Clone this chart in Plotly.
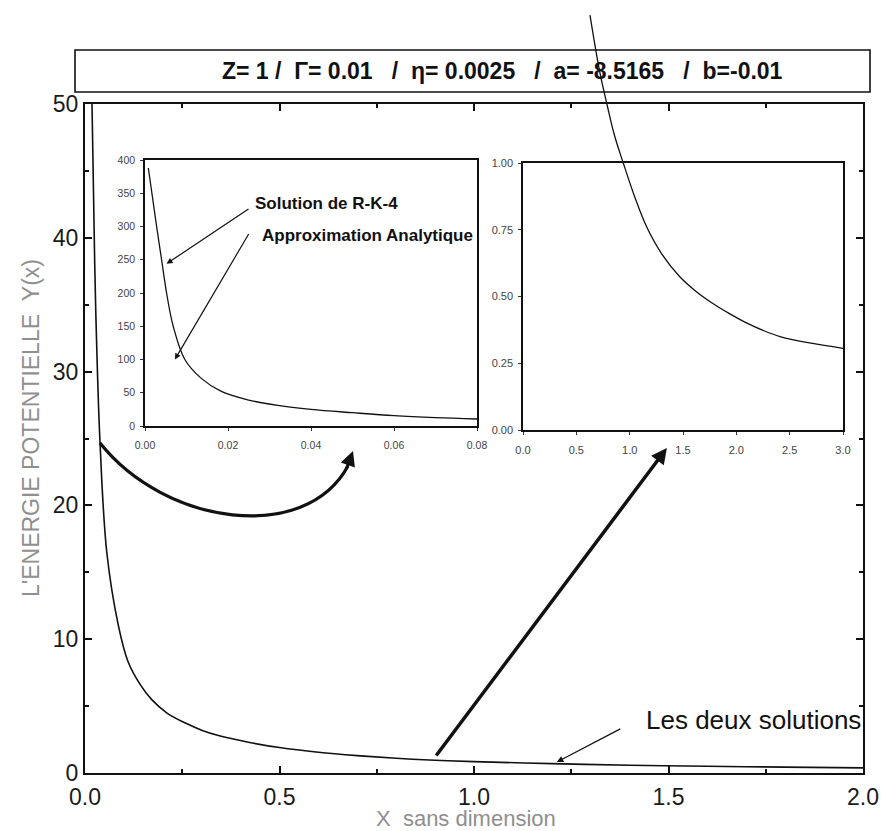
import plotly.graph_objects as go

# ---- figure size (px) and helpers to place things in paper space ----
W, H = 882, 831


def fx(px):
    return px / W


def fy(py):
    return 1 - py / H


# ---- data ----
# main curve: potential energy Y(x) over the full range
main_x = [0.018, 0.025, 0.03, 0.0386, 0.056, 0.086, 0.111, 0.14, 0.171, 0.21,
          0.257, 0.3, 0.343, 0.42, 0.5, 0.6, 0.7, 0.8, 0.9, 1.0, 1.2, 1.4,
          1.6, 1.8, 2.0]
main_y = [50.0, 38.0, 32.0, 24.7, 16.5, 11.0, 8.3, 6.7, 5.5, 4.5,
          3.75, 3.2, 2.8, 2.3, 1.9, 1.55, 1.3, 1.1, 0.95, 0.85, 0.7, 0.58,
          0.5, 0.44, 0.38]

# zoom near the origin (0 .. 0.08)
near_x = [0.0008, 0.0028, 0.004, 0.0052, 0.0068, 0.0096, 0.0135, 0.0184,
          0.025, 0.032, 0.04, 0.05, 0.06, 0.07, 0.08]
near_y = [388, 300, 250, 200, 150, 100, 72, 52, 39, 31, 25, 20, 15.5,
          12.5, 10.5]

# zoom on the tail (0 .. 3)
tail_x = [0.628, 0.72, 0.787, 0.86, 0.94, 1.05, 1.16, 1.3, 1.47, 1.62,
          1.78, 1.94, 2.1, 2.25, 2.41, 2.7, 3.0]
tail_y = [1.554, 1.34, 1.22, 1.10, 1.0, 0.87, 0.76, 0.66, 0.574, 0.52,
          0.474, 0.435, 0.40, 0.373, 0.35, 0.325, 0.306]

main_xticks = [0.0, 0.5, 1.0, 1.5, 2.0]
main_yticks = [0, 10, 20, 30, 40, 50]
near_xticks = [0.00, 0.02, 0.04, 0.06, 0.08]
near_yticks = [0, 50, 100, 150, 200, 250, 300, 350, 400]
tail_xticks = [0.0, 0.5, 1.0, 1.5, 2.0, 2.5, 3.0]
tail_yticks = [0.00, 0.25, 0.50, 0.75, 1.00]

title_text = ("Z= 1 /  \u0393= 0.01   /  \u03b7= 0.0025   /  a= -8.5165"
              "   /  b=-0.01").replace(" ", "\u00a0")

INK = "#111111"
SANS = "Liberation Sans, Arial, sans-serif"

fig = go.Figure()

fig.add_trace(go.Scatter(x=main_x, y=main_y, mode="lines", xaxis="x", yaxis="y",
                         line=dict(color=INK, width=1.6, shape="spline"),
                         hoverinfo="skip"))
fig.add_trace(go.Scatter(x=near_x, y=near_y, mode="lines", xaxis="x2", yaxis="y2",
                         line=dict(color=INK, width=1.3, shape="spline"),
                         hoverinfo="skip"))
# empty trace so the tail inset's frame and ticks get drawn
fig.add_trace(go.Scatter(x=[], y=[], mode="lines", xaxis="x3", yaxis="y3",
                         hoverinfo="skip"))
# the tail curve lives on an invisible axis pair that shares the inset's scale
# but extends up to the top of the page, so the curve can run past the frame
fig.add_trace(go.Scatter(x=tail_x, y=tail_y, mode="lines", xaxis="x4", yaxis="y4",
                         line=dict(color=INK, width=1.3, shape="spline"),
                         hoverinfo="skip"))

main_dom_x = [fx(85), fx(863)]
main_dom_y = [fy(773), fy(104)]
near_dom_x = [fx(145), fx(477)]
near_dom_y = [fy(426), fy(160)]
tail_dom_x = [fx(523), fx(843)]
tail_dom_y = [fy(430), fy(163)]
tail_px_per_unit = 430 - 163

main_axis = dict(showline=True, linewidth=2, linecolor=INK, mirror="ticks",
                 ticks="inside", ticklen=7, tickwidth=1.5, tickcolor=INK,
                 showgrid=False, zeroline=False, automargin=False,
                 tickfont=dict(family=SANS, size=23, color="#1a1a1a"))
inset_axis = dict(showline=True, linewidth=1.5, linecolor=INK, mirror=True,
                  ticks="outside", ticklen=3, tickwidth=1, tickcolor="#333",
                  showgrid=False, zeroline=False, automargin=False)

fig.update_layout(
    template="none",
    width=W, height=H,
    margin=dict(l=0, r=0, t=0, b=0, pad=0, autoexpand=False),
    paper_bgcolor="white", plot_bgcolor="rgba(0,0,0,0)",
    showlegend=False,
    xaxis=dict(domain=main_dom_x, range=[0, 2], tickvals=main_xticks,
               tickformat=".1f", anchor="y", ticklabelstandoff=2,
               minor=dict(dtick=0.25, ticks="inside", ticklen=4,
                          tickcolor=INK, showgrid=False),
               **main_axis),
    yaxis=dict(domain=main_dom_y, range=[0, 50], tickvals=main_yticks,
               anchor="x",
               minor=dict(dtick=5, ticks="inside", ticklen=4,
                          tickcolor=INK, showgrid=False),
               **main_axis),
    xaxis2=dict(domain=near_dom_x, range=[0, 0.08], tickvals=near_xticks,
                tickformat=".2f", anchor="y2", ticklabelstandoff=6,
                tickfont=dict(family=SANS, size=10.5, color="#444"),
                **inset_axis),
    yaxis2=dict(domain=near_dom_y, range=[0, 400], tickvals=near_yticks,
                anchor="x2", ticklabelstandoff=3,
                tickfont=dict(family=SANS, size=10.5, color="#444"),
                **inset_axis),
    xaxis3=dict(domain=tail_dom_x, range=[0, 3], tickvals=tail_xticks,
                tickformat=".1f", anchor="y3", ticklabelstandoff=6,
                tickfont=dict(family=SANS, size=11, color="#444"),
                **inset_axis),
    yaxis3=dict(domain=tail_dom_y, range=[0, 1], tickvals=tail_yticks,
                tickformat=".2f", anchor="x3", ticklabelstandoff=3,
                tickfont=dict(family=SANS, size=11, color="#444"),
                **inset_axis),
    xaxis4=dict(domain=tail_dom_x, range=[0, 3], anchor="y4", visible=False,
                automargin=False),
    yaxis4=dict(domain=[fy(430), 1.0], range=[0, 430 / tail_px_per_unit],
                anchor="x4", visible=False, automargin=False),
)

# parameter box
fig.add_shape(type="rect", xref="paper", yref="paper",
              x0=fx(75), x1=fx(870), y0=fy(92), y1=fy(50),
              line=dict(color=INK, width=1.6), fillcolor="rgba(0,0,0,0)")
fig.add_annotation(xref="paper", yref="paper", x=fx(502), y=fy(71),
                   text=title_text, showarrow=False,
                   xanchor="center", yanchor="middle",
                   font=dict(family=SANS, size=23, color=INK, weight="bold"))

# axis titles
fig.add_annotation(xref="paper", yref="paper", x=fx(31), y=fy(428),
                   text="L'ENERGIE POTENTIELLE\u00a0\u00a0Y(x)", textangle=-90,
                   showarrow=False, xanchor="center", yanchor="middle",
                   font=dict(family=SANS, size=23, color="#8f8f8f"))
fig.add_annotation(xref="paper", yref="paper", x=fx(466), y=fy(818),
                   text="X\u00a0\u00a0sans dimension", showarrow=False,
                   xanchor="center", yanchor="middle",
                   font=dict(family=SANS, size=22, color="#8f8f8f"))

# labels inside the near-origin inset
fig.add_annotation(xref="x2", yref="y2", x=0.026, y=335, text="Solution de R-K-4",
                   showarrow=False, xanchor="left", yanchor="middle",
                   font=dict(family=SANS, size=17, color=INK, weight="bold"))
fig.add_annotation(xref="x2", yref="y2", x=0.0277, y=287,
                   text="Approximation Analytique",
                   showarrow=False, xanchor="left", yanchor="middle",
                   font=dict(family=SANS, size=17, color=INK, weight="bold"))
fig.add_annotation(xref="x2", yref="y2", x=0.0052, y=244,
                   axref="x2", ayref="y2", ax=0.0253, ay=328,
                   text="", showarrow=True, arrowhead=2, arrowsize=1,
                   arrowwidth=1.2, arrowcolor=INK, standoff=0)
fig.add_annotation(xref="x2", yref="y2", x=0.0072, y=100,
                   axref="x2", ayref="y2", ax=0.0252, ay=291,
                   text="", showarrow=True, arrowhead=2, arrowsize=1,
                   arrowwidth=1.2, arrowcolor=INK, standoff=0)

# curved arrow from the steep part of the curve towards the near-origin inset
fig.add_shape(type="path", xref="x", yref="y",
              path="M 0.0386,24.66 C 0.2057,18.54 0.5656,17.04 0.676,22.94",
              line=dict(color=INK, width=3.2))
fig.add_annotation(xref="x", yref="y", x=0.689, y=24.07,
                   axref="x", ayref="y", ax=0.671, ay=22.65,
                   text="", showarrow=True, arrowhead=2, arrowsize=1,
                   arrowwidth=3, arrowcolor=INK, standoff=0)

# straight arrow from the tail towards the tail inset
fig.add_annotation(xref="x", yref="y", x=1.496, y=24.29,
                   axref="x", ayref="y", ax=0.9, ay=1.2,
                   text="", showarrow=True, arrowhead=2, arrowsize=0.9,
                   arrowwidth=3.5, arrowcolor=INK, standoff=0)

# both solutions coincide
fig.add_annotation(xref="x", yref="y", x=1.213, y=0.82,
                   axref="x", ayref="y", ax=1.38, ay=3.36,
                   text="", showarrow=True, arrowhead=2, arrowsize=1,
                   arrowwidth=1.3, arrowcolor=INK, standoff=0)
fig.add_annotation(xref="x", yref="y", x=2.0, y=3.95, text="Les deux solutions",
                   showarrow=False, xanchor="right", yanchor="middle",
                   font=dict(family=SANS, size=26, color=INK))

fig.write_html("out.html")
